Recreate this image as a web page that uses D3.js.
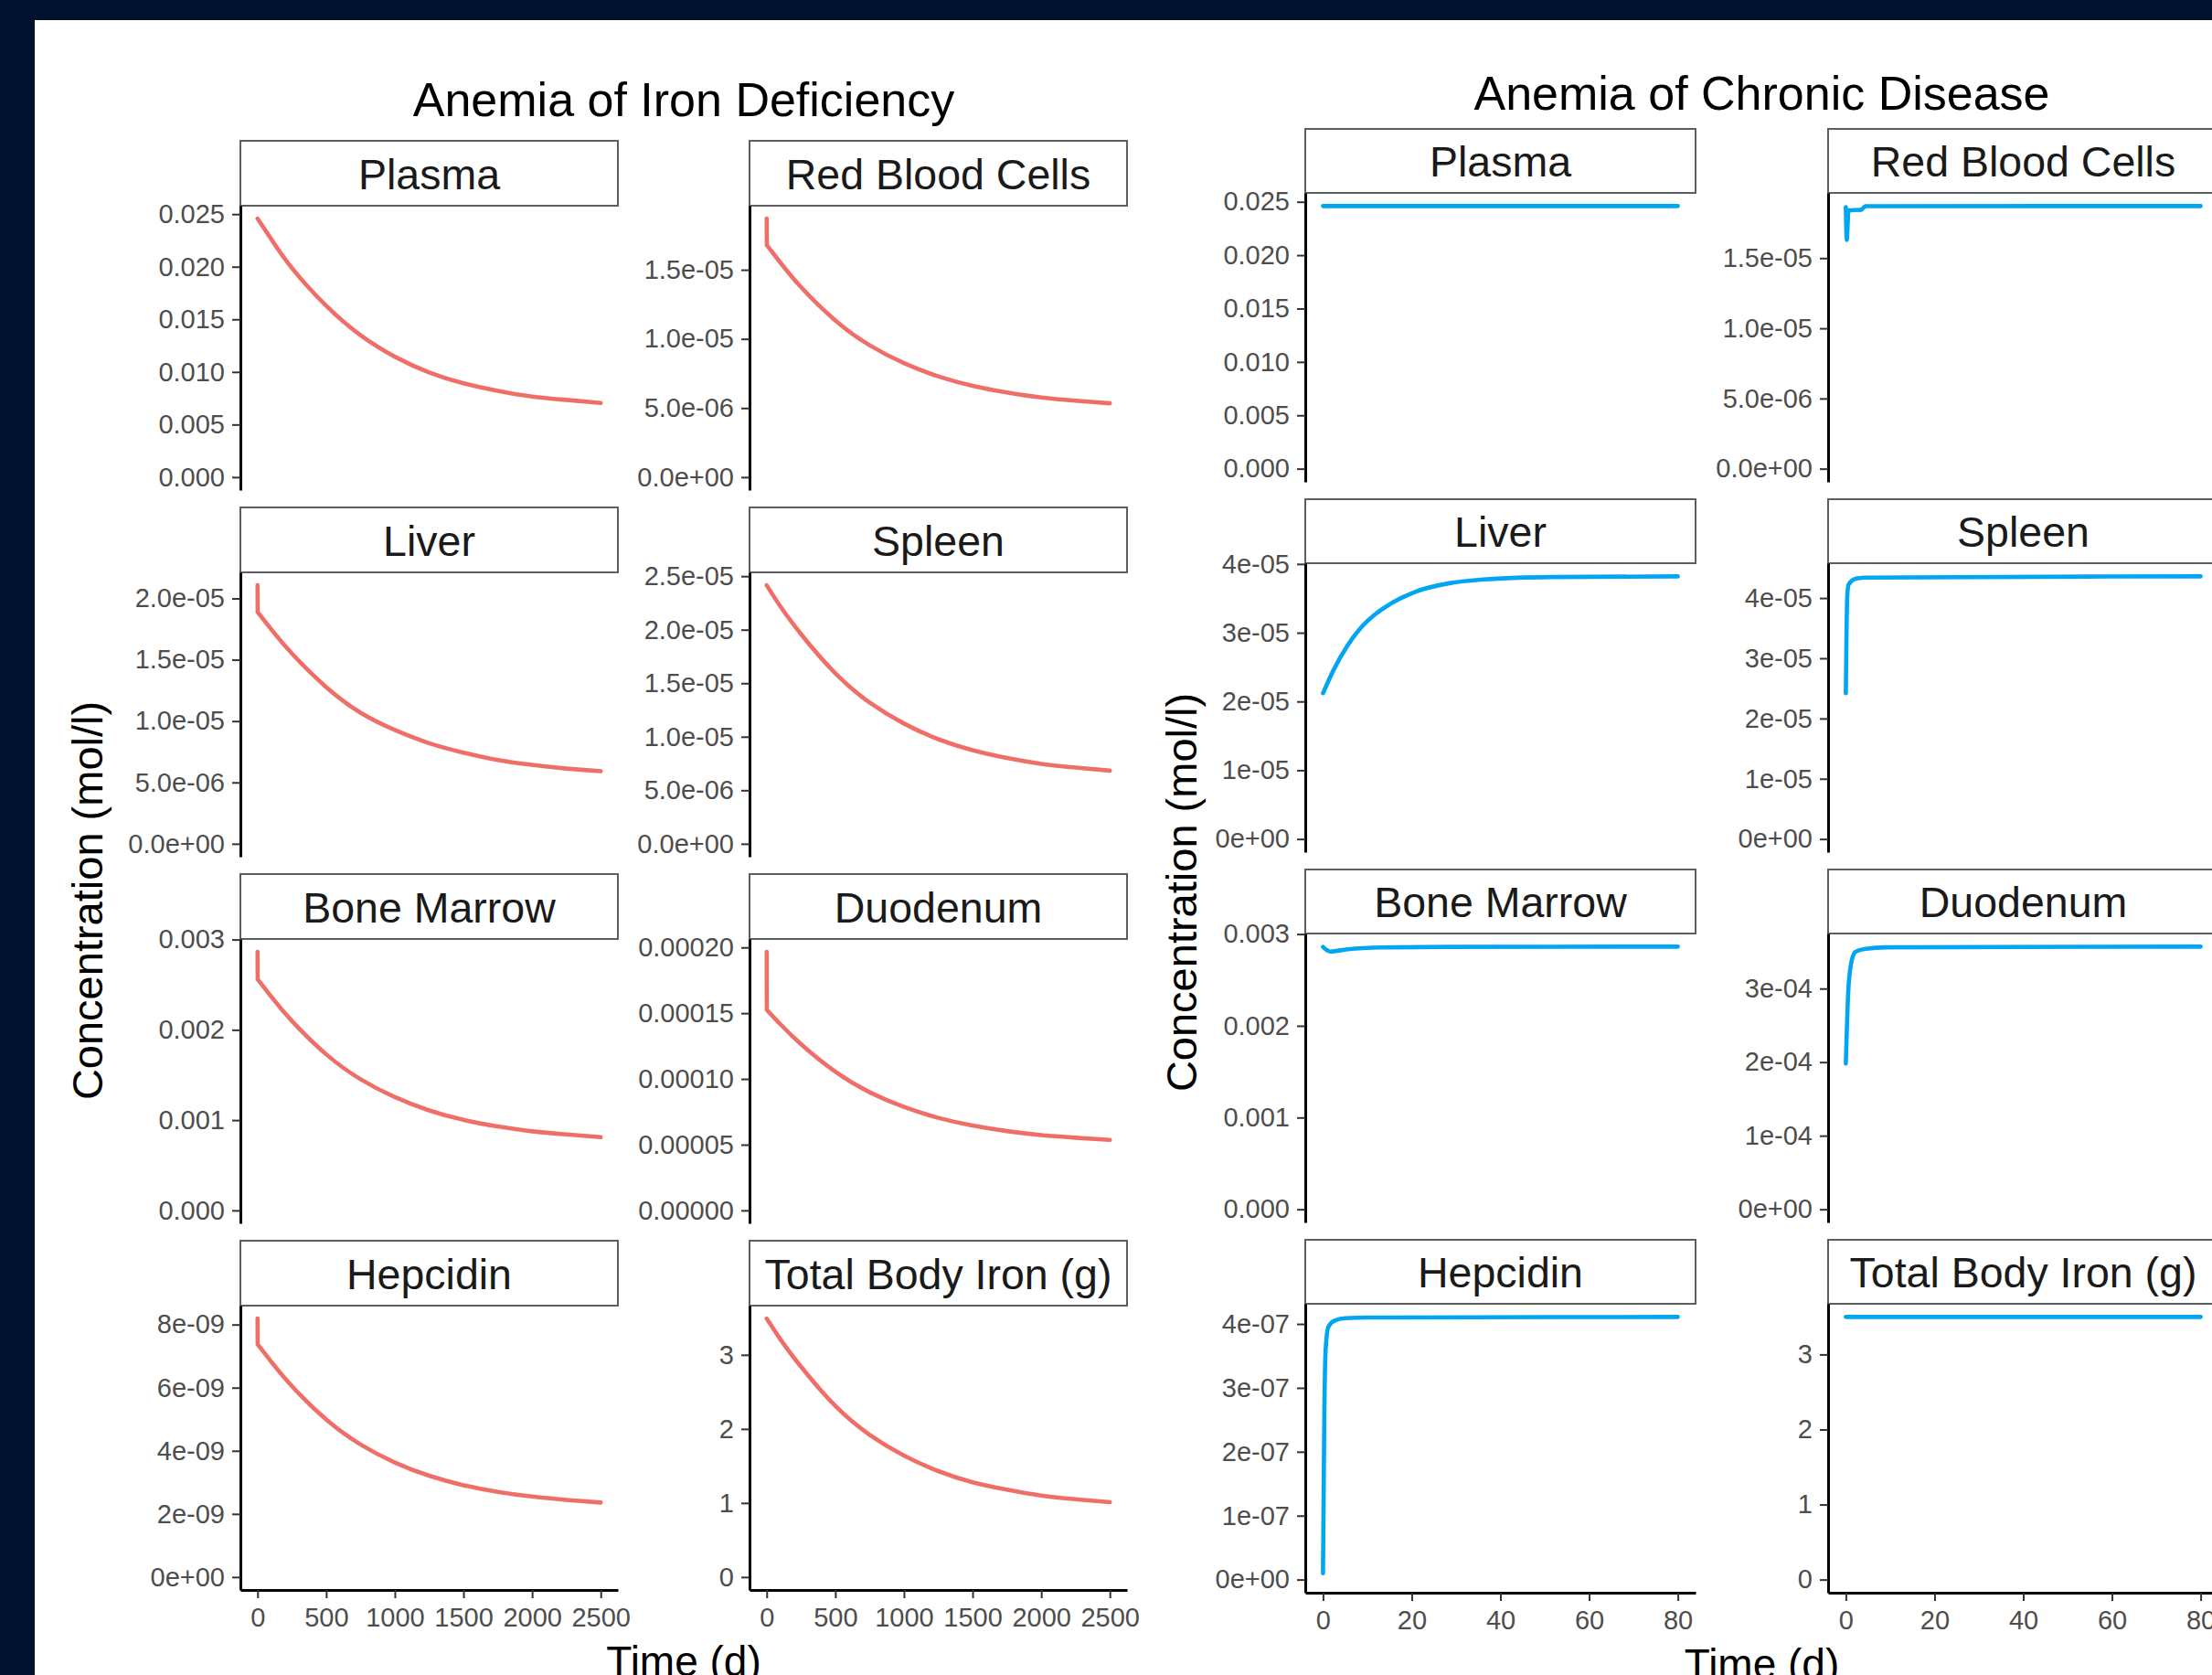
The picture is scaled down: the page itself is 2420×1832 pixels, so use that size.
<!DOCTYPE html>
<html>
<head>
<meta charset="utf-8">
<script src="https://cdn.jsdelivr.net/npm/d3@7"></script>
<style>
  html, body { margin: 0; padding: 0; background: #00112e; overflow: hidden; }
  svg { display: block; }
</style>
</head>
<body>
<div id="chart"></div>
<script>
// facet strip labels, same order in both simulations
const panelNames = ['Plasma', 'Red Blood Cells', 'Liver', 'Spleen', 'Bone Marrow', 'Duodenum', 'Hepcidin', 'Total Body Iron (g)'];

// Anemia of iron deficiency — day grid and values
const idTime = [0, 1, 100, 250, 500, 750, 1000, 1250, 1500, 1750, 2000, 2250, 2500];
const idPlasma = [0.02457, 0.02455, 0.02262, 0.01988, 0.01629, 0.01349, 0.01145, 0.00995, 0.00892, 0.0082, 0.00766, 0.00734, 0.00705];
const idRBC = [1.87e-5, 1.678e-5, 1.552e-5, 1.375e-5, 1.134e-5, 9.54e-6, 8.25e-6, 7.29e-6, 6.6e-6, 6.12e-6, 5.76e-6, 5.53e-6, 5.34e-6];
const idLiver = [2.107e-5, 1.888e-5, 1.747e-5, 1.551e-5, 1.277e-5, 1.068e-5, 9.27e-6, 8.2e-6, 7.43e-6, 6.83e-6, 6.43e-6, 6.13e-6, 5.91e-6];
const idSpleen = [2.415e-5, 2.413e-5, 2.217e-5, 1.959e-5, 1.592e-5, 1.319e-5, 1.123e-5, 9.77e-6, 8.74e-6, 8.01e-6, 7.47e-6, 7.12e-6, 6.83e-6];
const idBoneMarrow = [0.002863, 0.002559, 0.002367, 0.002099, 0.001729, 0.001453, 0.001255, 0.001108, 0.001003, 0.00093, 0.000876, 0.000841, 0.000811];
const idDuodenum = [1.966e-4, 1.525e-4, 1.416e-4, 1.265e-4, 1.055e-4, 8.99e-5, 7.87e-5, 7.04e-5, 6.45e-5, 6.03e-5, 5.73e-5, 5.53e-5, 5.36e-5];
const idHepcidin = [8.19e-9, 7.37e-9, 6.82e-9, 6.05e-9, 4.99e-9, 4.2e-9, 3.63e-9, 3.21e-9, 2.91e-9, 2.7e-9, 2.55e-9, 2.445e-9, 2.36e-9];
const idTotalIron = [3.49, 3.488, 3.21, 2.84, 2.31, 1.92, 1.64, 1.43, 1.28, 1.18, 1.1, 1.05, 1.01];

// Anemia of chronic disease — [day, value] pairs
const acdPlasma = [[0, 0.0246], [40, 0.0246], [80, 0.0246]];
const acdRBC = [[0, 1.864e-5], [0.2, 1.63e-5], [0.6, 1.84e-5], [3.5, 1.845e-5], [4.4, 1.87e-5], [80, 1.871e-5]];
const acdLiver = [[0, 2.12e-5], [2.4, 2.46e-5], [5.5, 2.81e-5], [8.5, 3.07e-5], [11.6, 3.26e-5], [14.7, 3.4e-5], [17.8, 3.51e-5], [20.8, 3.595e-5], [28.5, 3.72e-5], [36.2, 3.775e-5], [43.9, 3.8e-5], [51.6, 3.81e-5], [80, 3.82e-5]];
const acdSpleen = [[0, 2.42e-5], [0.3, 4.0e-5], [0.6, 4.22e-5], [2.2, 4.32e-5], [4.5, 4.34e-5], [80, 4.36e-5]];
const acdBoneMarrow = [[0, 0.00286], [1.6, 0.00281], [5.5, 0.002834], [13.1, 0.002854], [28.5, 0.00286], [80, 0.002863]];
const acdDuodenum = [[0, 1.98e-4], [0.6, 3.02e-4], [1.4, 3.4e-4], [2.2, 3.5e-4], [4.5, 3.54e-4], [9, 3.56e-4], [80, 3.57e-4]];
const acdHepcidin = [[0, 1.0e-8], [0.3, 2.6e-7], [0.6, 3.6e-7], [1.2, 3.95e-7], [2.5, 4.05e-7], [5, 4.09e-7], [10, 4.1e-7], [80, 4.11e-7]];
const acdTotalIron = [[0, 3.5], [40, 3.5], [80, 3.5]];

// y tick values and their printed labels, one entry per panel
const idYTicks = [
  [0, 0.005, 0.01, 0.015, 0.02, 0.025],
  [0, 5e-6, 1e-5, 1.5e-5],
  [0, 5e-6, 1e-5, 1.5e-5, 2e-5],
  [0, 5e-6, 1e-5, 1.5e-5, 2e-5, 2.5e-5],
  [0, 0.001, 0.002, 0.003],
  [0, 5e-5, 1e-4, 1.5e-4, 2e-4],
  [0, 2e-9, 4e-9, 6e-9, 8e-9],
  [0, 1, 2, 3],
];
const idYLabels = [
  ['0.000', '0.005', '0.010', '0.015', '0.020', '0.025'],
  ['0.0e+00', '5.0e-06', '1.0e-05', '1.5e-05'],
  ['0.0e+00', '5.0e-06', '1.0e-05', '1.5e-05', '2.0e-05'],
  ['0.0e+00', '5.0e-06', '1.0e-05', '1.5e-05', '2.0e-05', '2.5e-05'],
  ['0.000', '0.001', '0.002', '0.003'],
  ['0.00000', '0.00005', '0.00010', '0.00015', '0.00020'],
  ['0e+00', '2e-09', '4e-09', '6e-09', '8e-09'],
  ['0', '1', '2', '3'],
];
const acdYTicks = [
  [0, 0.005, 0.01, 0.015, 0.02, 0.025],
  [0, 5e-6, 1e-5, 1.5e-5],
  [0, 1e-5, 2e-5, 3e-5, 4e-5],
  [0, 1e-5, 2e-5, 3e-5, 4e-5],
  [0, 0.001, 0.002, 0.003],
  [0, 1e-4, 2e-4, 3e-4],
  [0, 1e-7, 2e-7, 3e-7, 4e-7],
  [0, 1, 2, 3],
];
const acdYLabels = [
  ['0.000', '0.005', '0.010', '0.015', '0.020', '0.025'],
  ['0.0e+00', '5.0e-06', '1.0e-05', '1.5e-05'],
  ['0e+00', '1e-05', '2e-05', '3e-05', '4e-05'],
  ['0e+00', '1e-05', '2e-05', '3e-05', '4e-05'],
  ['0.000', '0.001', '0.002', '0.003'],
  ['0e+00', '1e-04', '2e-04', '3e-04'],
  ['0e+00', '1e-07', '2e-07', '3e-07', '4e-07'],
  ['0', '1', '2', '3'],
];
const idXTicks = [0, 500, 1000, 1500, 2000, 2500];
const acdXTicks = [0, 20, 40, 60, 80];

const FONT = "'Liberation Sans', Arial, Helvetica, sans-serif";
const W = 2420, H = 1832;

const idSeries = [idPlasma, idRBC, idLiver, idSpleen, idBoneMarrow, idDuodenum, idHepcidin, idTotalIron]
  .map((vals) => vals.map((v, i) => [idTime[i], v]));
const acdSeries = [acdPlasma, acdRBC, acdLiver, acdSpleen, acdBoneMarrow, acdDuodenum, acdHepcidin, acdTotalIron];

const blocks = [
  {
    title: 'Anemia of Iron Deficiency', series: idSeries, xMax: 2500, xTicks: idXTicks,
    yTicks: idYTicks, yLabels: idYLabels, color: '#ef6f68', spikeThenSmooth: true,
    colX: [263, 820], panelW: 413, top: 154, rowStep: 401, stripH: 71, panelH: 311,
    titleY: 127, yLabelX: 112, yLabelY: 985, xLabelY: 1833,
  },
  {
    title: 'Anemia of Chronic Disease', series: acdSeries, xMax: 80, xTicks: acdXTicks,
    yTicks: acdYTicks, yLabels: acdYLabels, color: '#00a6f2', spikeThenSmooth: false,
    colX: [1428, 2000], panelW: 427, top: 141, rowStep: 405, stripH: 70, panelH: 316,
    titleY: 120, yLabelX: 1309, yLabelY: 976, xLabelY: 1836,
  },
];

const svg = d3.select('#chart').append('svg').attr('width', W).attr('height', H);
svg.append('rect').attr('width', W).attr('height', H).attr('fill', '#00112e');
svg.append('rect').attr('x', 38).attr('y', 22).attr('width', W - 38).attr('height', H - 22).attr('fill', '#ffffff');

function styleAxis(g) {
  g.attr('font-family', FONT).attr('font-size', 29);
  g.select('.domain').attr('stroke', '#000').attr('stroke-width', 3);
  g.selectAll('.tick line').attr('stroke', '#333').attr('stroke-width', 2);
  g.selectAll('.tick text').attr('fill', '#4d4d4d');
}

blocks.forEach((b) => {
  const centerX = (b.colX[0] + b.colX[1] + b.panelW) / 2;

  // block title
  svg.append('text')
    .attr('x', centerX).attr('y', b.titleY)
    .attr('text-anchor', 'middle').attr('font-family', FONT).attr('font-size', 52)
    .attr('fill', '#000').text(b.title);

  // y axis title
  svg.append('text')
    .attr('transform', `translate(${b.yLabelX},${b.yLabelY}) rotate(-90)`)
    .attr('text-anchor', 'middle').attr('font-family', FONT).attr('font-size', 47)
    .attr('fill', '#000').text('Concentration (mol/l)');

  // x axis title (runs off the bottom edge, as in the source image)
  svg.append('text')
    .attr('x', centerX).attr('y', b.xLabelY)
    .attr('text-anchor', 'middle').attr('font-family', FONT).attr('font-size', 46)
    .attr('fill', '#000').text('Time (d)');

  b.series.forEach((data, i) => {
    const col = i % 2;
    const row = Math.floor(i / 2);
    const x0 = b.colX[col];
    const stripTop = b.top + row * b.rowStep;
    const panelTop = stripTop + b.stripH;
    const panelBottom = panelTop + b.panelH;

    // ggplot-style 5% expansion, y range anchored at zero
    const yMax = d3.max(data, (d) => d[1]);
    const x = d3.scaleLinear().domain([-0.05 * b.xMax, 1.05 * b.xMax]).range([x0, x0 + b.panelW]);
    const y = d3.scaleLinear().domain([-0.05 * yMax, 1.05 * yMax]).range([panelBottom, panelTop]);

    // strip
    svg.append('rect')
      .attr('x', x0).attr('y', stripTop).attr('width', b.panelW).attr('height', b.stripH)
      .attr('fill', '#fff').attr('stroke', '#5e5e5e').attr('stroke-width', 2);
    svg.append('text')
      .attr('x', x0 + b.panelW / 2).attr('y', stripTop + b.stripH / 2 + 17)
      .attr('text-anchor', 'middle').attr('font-family', FONT).attr('font-size', 46.5)
      .attr('fill', '#1a1a1a').text(panelNames[i]);

    // y axis
    svg.append('g')
      .attr('transform', `translate(${x0},0)`)
      .call(d3.axisLeft(y).tickValues(b.yTicks[i]).tickFormat((d, k) => b.yLabels[i][k])
        .tickSize(9).tickSizeOuter(0).tickPadding(8))
      .call(styleAxis);

    // x axis only under the bottom row
    if (row === 3) {
      svg.append('g')
        .attr('transform', `translate(0,${panelBottom})`)
        .call(d3.axisBottom(x).tickValues(b.xTicks).tickFormat(d3.format('d'))
          .tickSize(9).tickSizeOuter(0).tickPadding(10))
        .call(styleAxis);
    }

    // day-0 jump drawn straight, the slow decay after it as a smooth spline
    let pathD;
    if (b.spikeThenSmooth) {
      const straight = d3.line().x((d) => x(d[0])).y((d) => y(d[1]));
      const smooth = d3.line().x((d) => x(d[0])).y((d) => y(d[1])).curve(d3.curveNatural);
      pathD = straight(data.slice(0, 2)) + smooth(data.slice(1));
    } else {
      pathD = d3.line().x((d) => x(d[0])).y((d) => y(d[1])).curve(d3.curveMonotoneX)(data);
    }
    svg.append('path')
      .attr('d', pathD)
      .attr('fill', 'none')
      .attr('stroke', b.color)
      .attr('stroke-width', 4.6)
      .attr('stroke-linejoin', 'round')
      .attr('stroke-linecap', 'round');
  });
});
</script>
</body>
</html>
